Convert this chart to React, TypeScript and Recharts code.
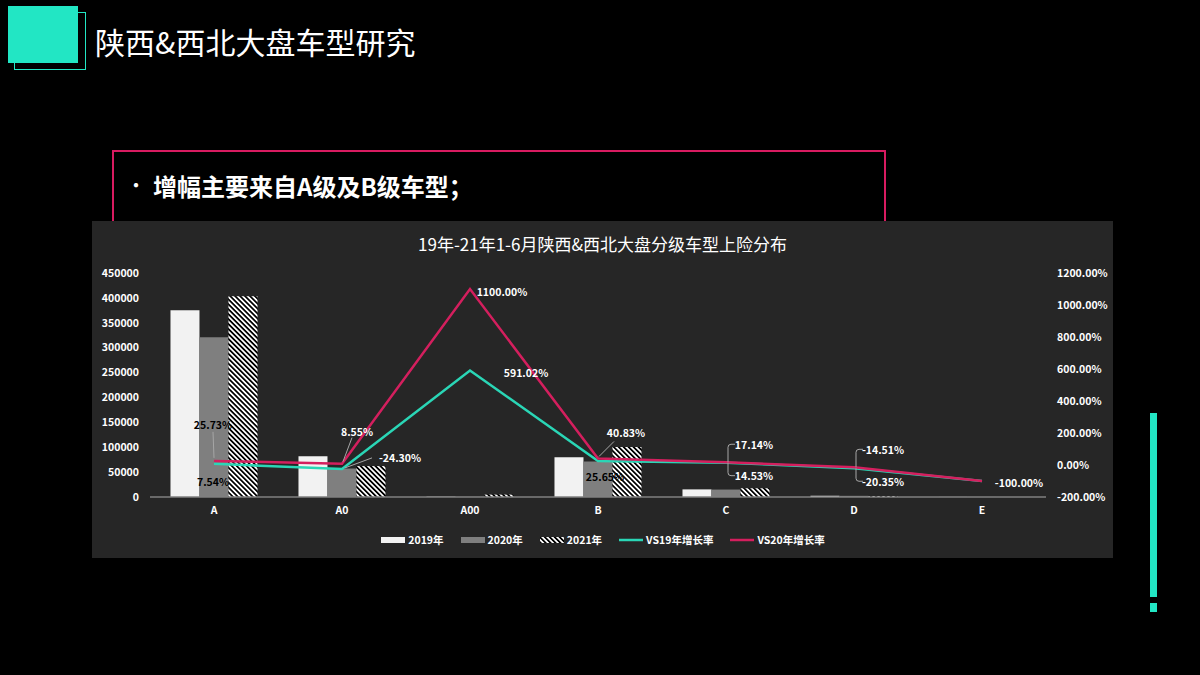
import React from 'react';
import { ComposedChart, Bar, Line, XAxis, YAxis, Legend, LabelList } from 'recharts';

// 车型级别
const categories = ['A', 'A0', 'A00', 'B', 'C', 'D', 'E'];
// 上险量（辆）
const sales2019 = [375000, 82000, 695, 80000, 15300, 2500, 120];
const sales2020 = [320700, 57200, 400, 71400, 14950, 2330, 90];
const sales2021 = [403300, 62100, 4800, 100500, 17510, 1990, 0];
// 增长率（%）
const growthVs19 = [7.54, -24.3, 591.02, 25.65, 14.53, -20.35, -100];
const growthVs20 = [25.73, 8.55, 1100, 40.83, 17.14, -14.51, -100];

const seriesNames = ['2019年', '2020年', '2021年', 'VS19年增长率', 'VS20年增长率'];
const leftTicks = [0, 50000, 100000, 150000, 200000, 250000, 300000, 350000, 400000, 450000];
const rightTicks = [-200, 0, 200, 400, 600, 800, 1000, 1200];

const chartData = categories.map((name, i) => ({
  name,
  y2019: sales2019[i],
  y2020: sales2020[i],
  y2021: sales2021[i],
  vs19: growthVs19[i],
  vs20: growthVs20[i],
}));

const TEAL = '#22e6c4';
const LINE_TEAL = '#2ad6b6';
const PINK = '#d41f5e';
const BAR19 = '#f2f2f2';
const BAR20 = '#7f7f7f';
const FONT = '"Noto Sans CJK SC", "Noto Sans", sans-serif';

type LabelSpec = {
  dx: number;
  dy: number;
  dark?: boolean;
  leader?: [number, number, number, number];
  bracket?: boolean;
  hide?: boolean;
};

// label placement relative to each point
const vs19Labels: LabelSpec[] = [
  { dx: -1, dy: 18, dark: true },
  { dx: 58, dy: -11, leader: [3, -1, 30, -11] },
  { dx: 56, dy: 2 },
  { dx: 7, dy: 16, dark: true },
  { dx: 28, dy: 13, bracket: true },
  { dx: 29, dy: 13, bracket: true },
  { dx: 37, dy: 1 },
];
const vs20Labels: LabelSpec[] = [
  { dx: -1, dy: -36, dark: true, leader: [0, -3, -1, -29] },
  { dx: 15, dy: -32, leader: [1, -2, 10, -26] },
  { dx: 32, dy: 2 },
  { dx: 28, dy: -26, leader: [1, -2, 16, -17] },
  { dx: 28, dy: -18, bracket: true },
  { dx: 29, dy: -18, bracket: true },
  { dx: 0, dy: 0, hide: true },
];

const makeLabel = (specs: LabelSpec[]) => (props: any) => {
  const { x, y, value, index } = props;
  const s = specs[index];
  if (!s || s.hide) return null;
  const ly = y + s.dy;
  let leader = null;
  if (s.leader) {
    const [x1, y1, x2, y2] = s.leader;
    leader = <line x1={x + x1} y1={y + y1} x2={x + x2} y2={y + y2} stroke="#a6a6a6" strokeWidth={1} />;
  } else if (s.bracket) {
    leader = (
      <path
        d={`M${x + 9},${ly} L${x + 5},${ly} Q${x + 2},${ly} ${x + 2},${ly + (s.dy < 0 ? 3 : -3)} L${x + 2},${y}`}
        stroke="#a6a6a6"
        strokeWidth={1}
        fill="none"
      />
    );
  }
  return (
    <g>
      {leader}
      <text
        x={x + s.dx}
        y={ly}
        textAnchor="middle"
        dominantBaseline="central"
        fontSize={10.5}
        fontWeight={700}
        fontFamily={FONT}
        fill={s.dark ? '#000' : '#fff'}
      >
        {`${Number(value).toFixed(2)}%`}
      </text>
    </g>
  );
};

const LegendContent = () => (
  <div
    style={{
      height: 37,
      display: 'flex',
      alignItems: 'center',
      justifyContent: 'center',
      gap: 17,
      fontFamily: FONT,
      fontSize: 10.5,
      fontWeight: 700,
      color: '#fff',
    }}
  >
    {seriesNames.map((name, i) => (
      <div key={name} style={{ display: 'flex', alignItems: 'center', gap: 3 }}>
        <svg width={24} height={8}>
          <defs>
            <pattern id="hatchLegend" width={3.5} height={3.5} patternUnits="userSpaceOnUse" patternTransform="rotate(-45)">
              <rect width={3.5} height={3.5} fill="#000" />
              <rect width={1.75} height={3.5} fill="#fff" />
            </pattern>
          </defs>
          {i === 0 && <rect x={0} y={1} width={24} height={6} fill={BAR19} />}
          {i === 1 && <rect x={0} y={1} width={24} height={6} fill={BAR20} />}
          {i === 2 && <rect x={0} y={1} width={24} height={6} fill="url(#hatchLegend)" />}
          {i === 3 && <line x1={0} y1={4} x2={24} y2={4} stroke={LINE_TEAL} strokeWidth={2.5} />}
          {i === 4 && <line x1={0} y1={4} x2={24} y2={4} stroke={PINK} strokeWidth={2.5} />}
        </svg>
        <span>{name}</span>
      </div>
    ))}
  </div>
);

const tickStyle = { fill: '#fff', fontSize: 10.5, fontWeight: 700, fontFamily: FONT };

const App: React.FC = () => {
  return (
    <div style={{ position: 'absolute', left: 0, top: 0, width: 1200, height: 675, background: '#000', overflow: 'hidden', fontFamily: FONT }}>
      {/* header */}
      <div style={{ position: 'absolute', left: 14, top: 12, width: 70, height: 56, border: `1.5px solid ${TEAL}` }} />
      <div style={{ position: 'absolute', left: 8, top: 6, width: 70, height: 57, background: TEAL }} />
      <div style={{ position: 'absolute', left: 95, top: 25, fontSize: 30, lineHeight: '32px', color: '#fff' }}>
        陕西&amp;西北大盘车型研究
      </div>

      {/* note box */}
      <div style={{ position: 'absolute', left: 112, top: 150, width: 770, height: 110, border: '2.5px solid #d81b60' }} />
      <div style={{ position: 'absolute', left: 126, top: 170, fontSize: 20, color: '#fff', lineHeight: '30px' }}>•</div>
      <div style={{ position: 'absolute', left: 153, top: 170, fontSize: 24, fontWeight: 700, color: '#fff', lineHeight: '32px' }}>
        增幅主要来自A级及B级车型；
      </div>

      {/* right accent */}
      <div style={{ position: 'absolute', left: 1150, top: 413, width: 7, height: 184, background: TEAL }} />
      <div style={{ position: 'absolute', left: 1150, top: 603, width: 7, height: 9, background: TEAL }} />

      {/* chart panel */}
      <div style={{ position: 'absolute', left: 92, top: 221, width: 1021, height: 337, background: '#262626' }}>
        <div
          style={{
            position: 'absolute',
            left: 0,
            width: 1021,
            top: 12,
            textAlign: 'center',
            color: '#fff',
            fontSize: 17,
            lineHeight: '22px',
          }}
        >
          19年-21年1-6月陕西&amp;西北大盘分级车型上险分布
        </div>
        <ComposedChart
          width={1021}
          height={337}
          data={chartData}
          margin={{ top: 52, right: 7, left: 8, bottom: 0 }}
          barGap={0}
          barCategoryGap="16%"
        >
          <defs>
            <pattern id="hatch2021" width={3.5} height={3.5} patternUnits="userSpaceOnUse" patternTransform="rotate(-45)">
              <rect width={3.5} height={3.5} fill="#000" />
              <rect width={1.75} height={3.5} fill="#fff" />
            </pattern>
          </defs>
          <XAxis
            dataKey="name"
            height={24}
            tick={tickStyle}
            tickLine={false}
            axisLine={{ stroke: '#808080', strokeWidth: 1.5 }}
            tickMargin={4}
          />
          <YAxis
            yAxisId="left"
            width={50}
            domain={[0, 450000]}
            ticks={leftTicks}
            tick={tickStyle}
            tickLine={false}
            axisLine={false}
            tickMargin={5}
            interval={0}
          />
          <YAxis
            yAxisId="right"
            orientation="right"
            width={60}
            domain={[-200, 1200]}
            ticks={rightTicks}
            tick={tickStyle}
            tickLine={false}
            axisLine={false}
            tickMargin={5}
            interval={0}
            tickFormatter={(v: number) => `${v.toFixed(2)}%`}
          />
          <Legend verticalAlign="bottom" height={37} content={<LegendContent />} />
          <Bar yAxisId="left" dataKey="y2019" name={seriesNames[0]} fill={BAR19} isAnimationActive={false} />
          <Bar yAxisId="left" dataKey="y2020" name={seriesNames[1]} fill={BAR20} isAnimationActive={false} />
          <Bar yAxisId="left" dataKey="y2021" name={seriesNames[2]} fill="url(#hatch2021)" isAnimationActive={false} />
          <Line
            yAxisId="right"
            type="linear"
            dataKey="vs19"
            name={seriesNames[3]}
            stroke={LINE_TEAL}
            strokeWidth={2.5}
            dot={false}
            isAnimationActive={false}
          >
            <LabelList dataKey="vs19" content={makeLabel(vs19Labels)} />
          </Line>
          <Line
            yAxisId="right"
            type="linear"
            dataKey="vs20"
            name={seriesNames[4]}
            stroke={PINK}
            strokeWidth={2.5}
            dot={false}
            isAnimationActive={false}
          >
            <LabelList dataKey="vs20" content={makeLabel(vs20Labels)} />
          </Line>
        </ComposedChart>
      </div>
    </div>
  );
};

export default App;
